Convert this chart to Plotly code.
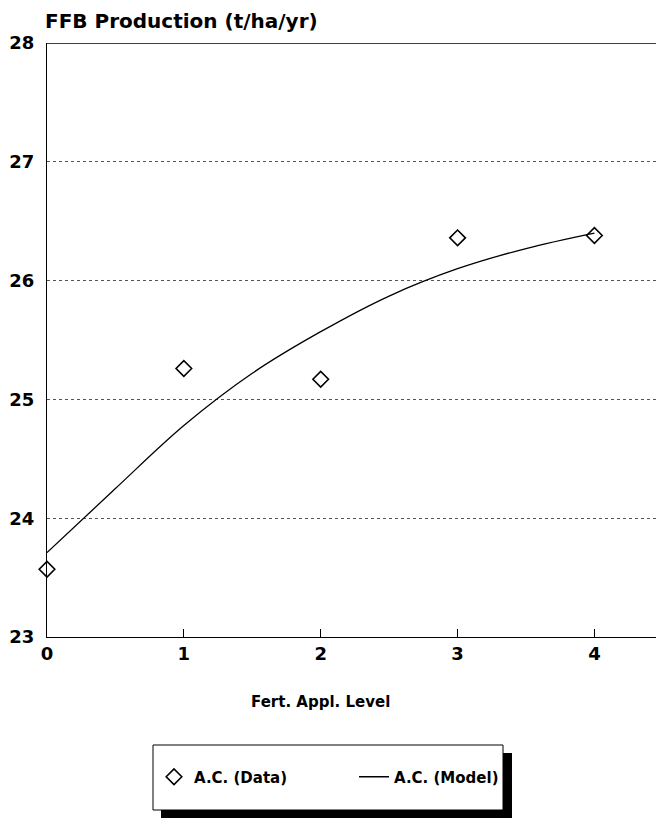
import plotly.graph_objects as go

# Data
levels = [0, 1, 2, 3, 4]
ffb_data = [23.57, 25.26, 25.17, 26.36, 26.38]
model_x = [0, 0.5, 1, 1.5, 2, 2.5, 3, 3.5, 4]
model_y = [23.71, 24.25, 24.78, 25.22, 25.57, 25.87, 26.10, 26.27, 26.40]
x_ticks = [0, 1, 2, 3, 4]
y_ticks = [23, 24, 25, 26, 27, 28]

W, H = 656, 818
L, R, T, B = 47, 0, 43, 181
pw, ph = W - L - R, H - T - B

def px_x(p):
    return (p - L) / pw

def px_y(p):
    return (H - B - p) / ph

FONT = "DejaVu Sans"

fig = go.Figure()
fig.add_trace(go.Scatter(
    x=levels, y=ffb_data, mode="markers", name="A.C. (Data)",
    marker=dict(symbol="diamond-open", size=12, color="black", line=dict(width=1.6, color="black")),
    cliponaxis=False,
))
fig.add_trace(go.Scatter(
    x=model_x, y=model_y, mode="lines", name="A.C. (Model)",
    line=dict(color="black", width=1.3, shape="spline"),
))

fig.update_layout(
    width=W, height=H,
    margin=dict(l=L, r=R, t=T, b=B),
    paper_bgcolor="white", plot_bgcolor="white",
    font=dict(family=FONT, color="black", size=17),
    showlegend=True,
    legend=dict(
        orientation="h", x=px_x(154), xanchor="left", y=px_y(777), yanchor="middle",
        bgcolor="rgba(0,0,0,0)", borderwidth=0,
        font=dict(family=FONT, size=15, color="black", weight="bold"),
        itemwidth=30, entrywidth=155, entrywidthmode="pixels",
    ),
    xaxis=dict(
        range=[0, 4.45], tickvals=x_ticks, ticktext=[str(v) for v in x_ticks],
        showgrid=False, zeroline=False,
        showline=True, linecolor="black", linewidth=1.3,
        ticks="inside", ticklen=8, tickcolor="black", tickwidth=1,
        tickfont=dict(family=FONT, size=18, weight="bold"),
    ),
    yaxis=dict(
        range=[23, 28], tickvals=y_ticks, ticktext=[str(v) for v in y_ticks],
        showgrid=True, gridcolor="#555555", griddash="dot", gridwidth=1,
        zeroline=False,
        showline=True, linecolor="black", linewidth=1.2,
        ticks="", ticklabelstandoff=8,
        tickfont=dict(family=FONT, size=18, weight="bold"),
    ),
    annotations=[
        dict(text="<b>FFB Production (t/ha/yr)</b>", xref="paper", yref="paper",
             x=px_x(43), y=px_y(21), xanchor="left", yanchor="middle",
             showarrow=False, font=dict(family=FONT, size=20)),
        dict(text="<b>Fert. Appl. Level</b>", xref="x", yref="paper",
             x=2, y=px_y(702), xanchor="center", yanchor="middle",
             showarrow=False, font=dict(family=FONT, size=15)),
    ],
    shapes=[
        # top border at 28
        dict(type="line", xref="paper", yref="y", x0=0, x1=1, y0=28, y1=28,
             line=dict(color="black", width=1.3)),
        # legend shadow
        dict(type="rect", xref="paper", yref="paper",
             x0=px_x(161), x1=px_x(512), y0=px_y(753), y1=px_y(818),
             fillcolor="black", line=dict(width=0)),
        # legend box
        dict(type="rect", xref="paper", yref="paper",
             x0=px_x(153), x1=px_x(503), y0=px_y(745), y1=px_y(810),
             fillcolor="white", line=dict(color="black", width=1)),
    ],
)

fig.write_html("out.html")
